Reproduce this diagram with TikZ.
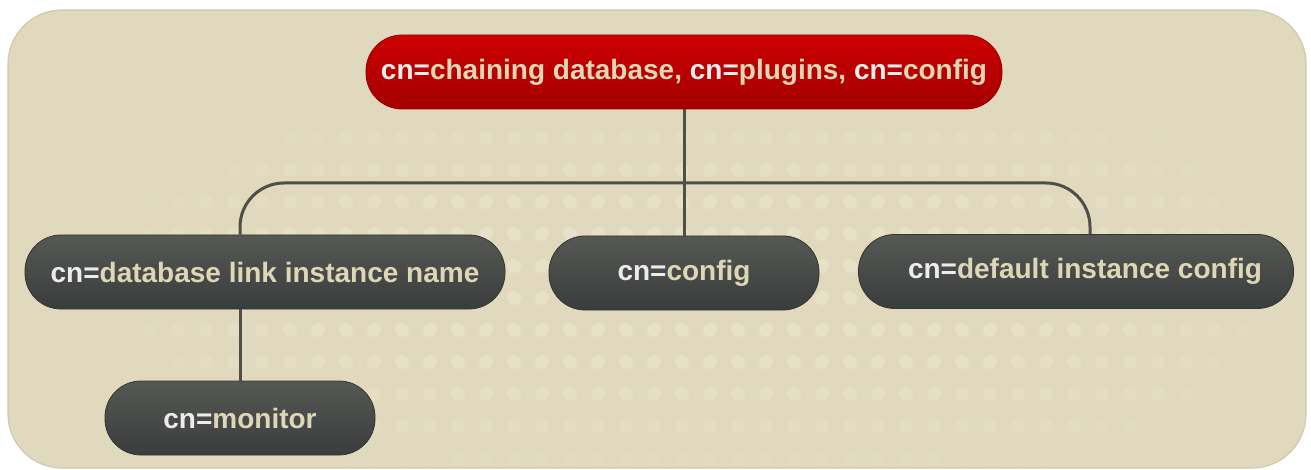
\documentclass[tikz,border=0pt]{standalone}
\usepackage{fontspec}
\setmainfont{Liberation Sans}
\usetikzlibrary{shadings}
\definecolor{bgc}{HTML}{E0D9BD}
\definecolor{bgedge}{HTML}{CFC9B0}
\definecolor{dotc}{HTML}{F2EDD8}
\definecolor{redtop}{HTML}{CC0000}
\definecolor{redbot}{HTML}{A40000}
\definecolor{redline}{HTML}{9A0000}
\definecolor{darktop}{HTML}{565854}
\definecolor{darkbot}{HTML}{3A3D3D}
\definecolor{darkline}{HTML}{34362F}
\definecolor{linec}{HTML}{4E4F48}
\definecolor{cnwhite}{HTML}{ECECEC}
\definecolor{creamtxt}{HTML}{DED7B6}
\newcommand\cnpre{\textcolor{cnwhite}{cn=}}
\begin{document}
\begin{tikzpicture}[x=0.5pt,y=-0.5pt,
  box/.style={rectangle, rounded corners=18pt, minimum height=37pt, inner sep=0pt,
    font=\fontsize{14}{16}\selectfont\bfseries, text=creamtxt},
  redbox/.style={box, top color=redtop, bottom color=redbot, draw=redline, line width=0.4pt},
  darkbox/.style={box, top color=darktop, bottom color=darkbot, draw=darkline, line width=0.4pt},
  conn/.style={draw=linec, line width=1.5pt}]
\useasboundingbox (0,0) rectangle (1311,470);
\fill[white] (0,0) rectangle (1311,470);
\draw[fill=bgc, draw=bgedge, line width=0.6pt, rounded corners=27pt] (8,10) rectangle (1306,468);
\begin{scope}
  \clip[rounded corners=27pt] (8,10) rectangle (1306,468);
  \foreach \x in {150,178,...,1250}{
    \foreach \y in {138,170,...,458}{
      \pgfmathsetmacro\op{0.45*max(0,1-((\x-700)/600)^4-((\y-285)/200)^2)}
      \fill[dotc, opacity=\op] (\x,\y) circle[radius=3.5pt];
    }
  }
\end{scope}
% nodes
\node[redbox, minimum width=318pt] (top) at (684,72) {\cnpre chaining database, \cnpre plugins, \cnpre config};
\node[darkbox, minimum width=135pt] (mid) at (684,273) {\cnpre config};
\node[darkbox, minimum width=240pt] (left) at (265,272) {\cnpre database link instance name};
\node[darkbox, minimum width=217.5pt] (right) at (1076,271.5) {\hspace*{9pt}\cnpre default instance config};
\node[darkbox, minimum width=135pt] (mon) at (240,418) {\cnpre monitor};
% connectors
\coordinate (hy) at (0,183);
\draw[conn] (top.south) -- (mid.north);
\draw[conn, rounded corners=22pt] (mon.north |- left.north) |- (hy -| mid.north) -| ([xshift=7pt]right.north);
\draw[conn] (left.south -| mon.north) -- (mon.north);
\end{tikzpicture}
\end{document}
